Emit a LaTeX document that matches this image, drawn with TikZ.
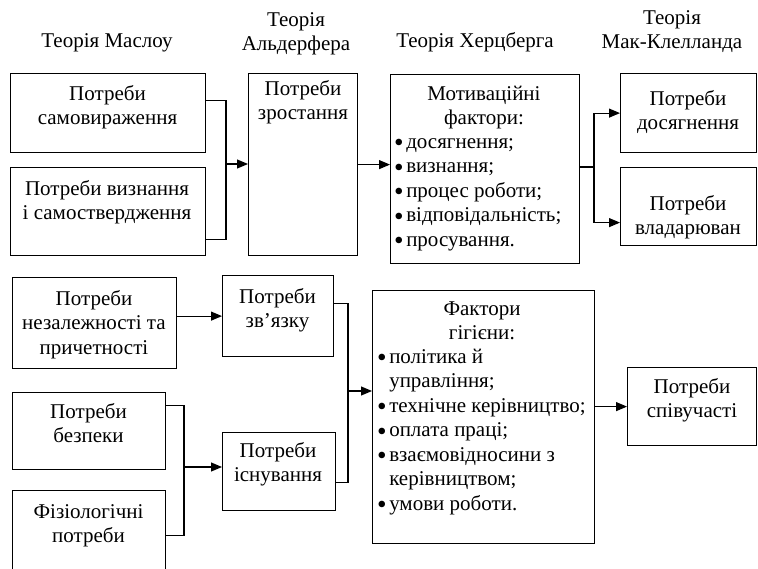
\documentclass[tikz,border=0pt]{standalone}
\usepackage{fontspec}
\setmainfont{Liberation Serif}
\usetikzlibrary{arrows.meta,calc}
\newcommand{\fsz}{\fontsize{21}{24.5}\selectfont}
\newcommand{\bdot}{\raisebox{-3.5pt}{\scalebox{1.3}{\textbullet}}}
\newcommand{\bl}{\bdot\hspace{2.5pt}}
\newcommand{\bh}{\phantom{\bdot}\hspace{2.5pt}}
\begin{document}
\begin{tikzpicture}[x=1pt,y=-1pt,
  box/.style={draw, line width=1.2pt, inner sep=0pt, anchor=north west},
  txt/.style={inner sep=0pt, align=center, font=\fsz, anchor=north},
  lst/.style={inner sep=0pt, align=left, font=\fsz, anchor=north west},
  con/.style={line width=1.1pt},
  arr/.style={con, -{Triangle[length=11pt,width=9pt]}}]
\useasboundingbox (0,0) rectangle (758,568);
% titles
\node[txt] (tM) at (107,30) {\strut Теорія Маслоу};
\node[txt] (tA) at (296,9) {\strut Теорія\\Альдерфера};
\node[txt] (tH) at (475,30) {\strut Теорія Херцберга};
\node[txt] (tC) at (672,7) {\strut Теорія\\Мак-Клелланда};
% boxes
\node[box, minimum width=195pt, minimum height=79pt] (mB1) at (10,73) {};
\node[box, minimum width=195pt, minimum height=88pt] (mB2) at (10,167) {};
\node[box, minimum width=109pt, minimum height=182pt] (aG) at (248,73) {};
\node[box, minimum width=189pt, minimum height=189pt] (hM) at (390,74) {};
\node[box, minimum width=136pt, minimum height=79pt] (mcA) at (620,73) {};
\node[box, minimum width=136pt, minimum height=78pt] (mcP) at (620,167) {};
\node[box, minimum width=164pt, minimum height=91pt] (mI) at (12,277) {};
\node[box, minimum width=111pt, minimum height=81pt] (aR) at (222,275) {};
\node[box, minimum width=153pt, minimum height=77pt] (mS) at (12,392) {};
\node[box, minimum width=153pt, minimum height=85pt] (mF) at (12,490) {};
\node[box, minimum width=113pt, minimum height=78pt] (aE) at (222,432) {};
\node[box, minimum width=222pt, minimum height=253pt] (hH) at (372,290) {};
\node[box, minimum width=129pt, minimum height=78pt] (mcS) at (627,367) {};
% box texts
\node[txt] (mB1t) at (107.5,83) {\strut Потреби\\самовираження};
\node[txt] (mB2t) at (107,178) {\strut Потреби визнання\\і самоствердження};
\node[txt] (aGt) at (303,78) {\strut Потреби\\зростання};
\node[txt] (hMt) at (484,83) {\strut Мотиваційні\\фактори:};
\node[lst] (hMl) at (394,131) {\strut\bl досягнення;\\\bl визнання;\\\bl процес роботи;\\\bl відповідальність;\\\bl просування.};
\node[txt] (mcAt) at (688,88) {\strut Потреби\\досягнення};
\node[txt] (mcPt) at (688,193) {\strut Потреби\\владарюван};
\node[txt] (mIt) at (94,288) {\strut Потреби\\незалежності та\\причетності};
\node[txt] (aRt) at (277.5,286) {\strut Потреби\\зв’язку};
\node[txt] (mSt) at (88.5,401) {\strut Потреби\\безпеки};
\node[txt] (mFt) at (88.5,501) {\strut Фізіологічні\\потреби};
\node[txt] (aEt) at (278,440) {\strut Потреби\\існування};
\node[txt] (hHt) at (482,298) {\strut Фактори\\гігієни:};
\node[lst] (hHl) at (377,346) {\strut\bl політика й\\\bh управління;\\\bl технічне керівництво;\\\bl оплата праці;\\\bl взаємовідносини з\\\bh керівництвом;\\\bl умови роботи.};
\node[txt] (mcSt) at (692,376) {\strut Потреби\\співучасті};
% connectors
\coordinate (k1) at (226,164);
\draw[con] ($(mB1.east)+(0,-12.5)$) -| (k1) |- ($(mB2.east)+(0,28)$);
\draw[arr] (k1) -- (k1 -| aG.west);
\draw[arr] (aG.east) -- (aG.east -| hM.west);
\coordinate (k2) at (594,167);
\draw[con] (hM.east |- k2) -- (k2);
\draw[arr] (k2) |- (mcA.west);
\draw[arr] (k2) |- ($(mcP.west)+(0,16)$);
\draw[arr] (aR.west -| mI.east) -- (aR.west);
\coordinate (k3) at (184,467);
\draw[con] ($(mS.east)+(0,-25.5)$) -| (k3) |- ($(mF.east)+(0,2.5)$);
\draw[arr] (k3) -- (k3 -| aE.west);
\coordinate (k4) at (348,391);
\draw[con] ($(aR.east)+(0,-12.5)$) -| (k4) |- ($(aE.east)+(0,11)$);
\draw[arr] (k4) -- (k4 -| hH.west);
\draw[arr] (mcS.west -| hH.east) -- (mcS.west);
\end{tikzpicture}
\end{document}
